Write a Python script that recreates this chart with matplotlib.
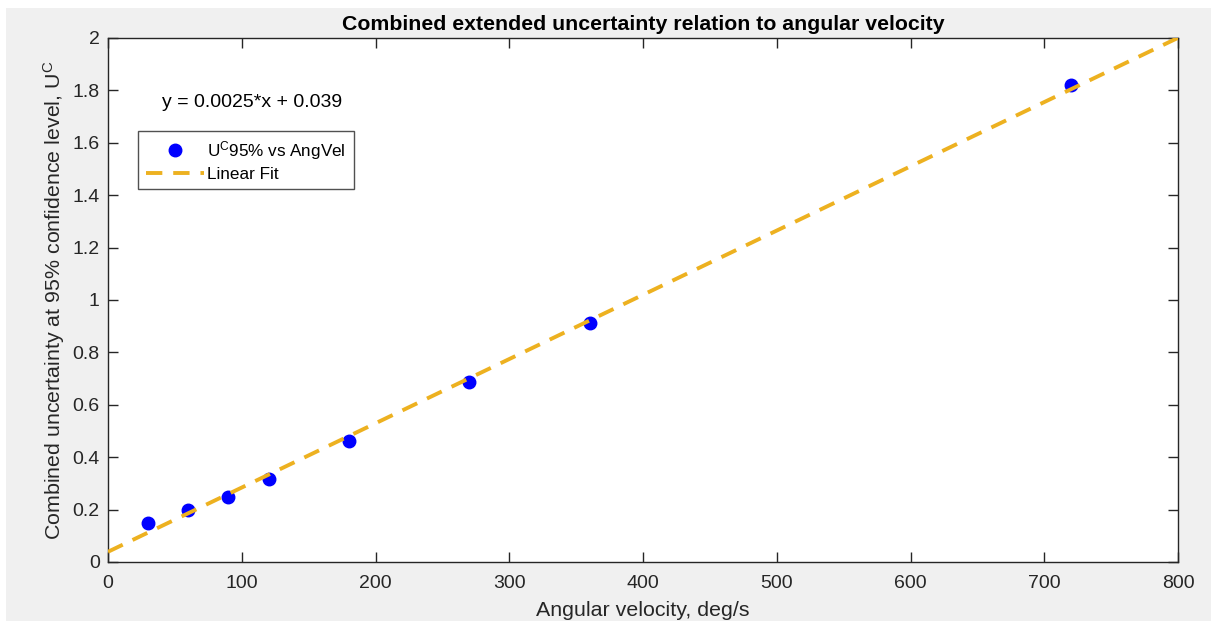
import numpy as np
import matplotlib.pyplot as plt
from matplotlib.patches import Rectangle

# angular velocity (deg/s) and combined uncertainty at 95% confidence
ang_vel = [30, 60, 90, 120, 180, 270, 360, 720]
u_c95 = [0.148, 0.197, 0.250, 0.318, 0.462, 0.686, 0.913, 1.820]

# linear fit coefficients
slope = 0.002452
intercept = 0.039

x_ticks = [0, 100, 200, 300, 400, 500, 600, 700, 800]
y_ticks = [0, 0.2, 0.4, 0.6, 0.8, 1, 1.2, 1.4, 1.6, 1.8, 2]

plt.rcParams['font.family'] = ['Liberation Sans', 'DejaVu Sans']
plt.rcParams['mathtext.fontset'] = 'custom'
plt.rcParams['mathtext.rm'] = 'Liberation Sans'
plt.rcParams['mathtext.it'] = 'Liberation Sans'

fig = plt.figure(figsize=(12.11, 6.23), dpi=100, facecolor='white')
# grey figure panel behind the axes
fig.patches.append(Rectangle((6 / 1211, 2 / 623), 1 - 6 / 1211, 1 - 10 / 623,
                             transform=fig.transFigure, facecolor='#f0f0f0',
                             edgecolor='none', zorder=-10))

ax = fig.add_axes([108 / 1211, 61 / 623, 1070 / 1211, 524 / 623])
ax.set_facecolor('white')

xfit = np.array([0, 800])
ax.plot(ang_vel, u_c95, 'o', color='blue', markersize=9,
        label='U$^{C}$95% vs AngVel', zorder=3)
ax.plot(xfit, slope * xfit + intercept, '--', color='#edb120', linewidth=2.8,
        dashes=(4.2, 2.8), label='Linear Fit', zorder=4)

ax.set_xlim(0, 800)
ax.set_ylim(0, 2)
ax.set_xticks(x_ticks)
ax.set_yticks(y_ticks)
ax.set_yticklabels([f'{v:g}' for v in y_ticks])

dark = '#262626'
for s in ax.spines.values():
    s.set_color(dark)
    s.set_linewidth(1.0)
ax.tick_params(direction='in', length=7.5, width=1.0, color=dark,
               labelcolor=dark, labelsize=14, top=True, right=True)
ax.tick_params(axis='x', pad=9)
ax.tick_params(axis='y', pad=6)

ax.set_title('Combined extended uncertainty relation to angular velocity',
             fontsize=15.3, fontweight='bold', pad=6)
ax.set_xlabel('Angular velocity, deg/s', fontsize=15.4, color=dark, labelpad=7)
ax.set_ylabel('Combined uncertainty at 95% confidence level, U$^{C}$',
              fontsize=15.4, color=dark, labelpad=4)

ax.text(40, 1.755, f'y = {slope:.2g}*x + {intercept:g}', fontsize=14,
        color='black', ha='left', va='center')

leg = ax.legend(loc='upper left', bbox_to_anchor=(30 / 1070, 1 - 93 / 524),
                fontsize=12.3, frameon=True, fancybox=False, borderpad=0.45,
                handlelength=3.4, handletextpad=0.2, labelspacing=0.3,
                borderaxespad=0)
leg.get_frame().set_edgecolor(dark)
leg.get_frame().set_linewidth(1.0)

fig.savefig('out.png', dpi=100, facecolor=fig.get_facecolor())
